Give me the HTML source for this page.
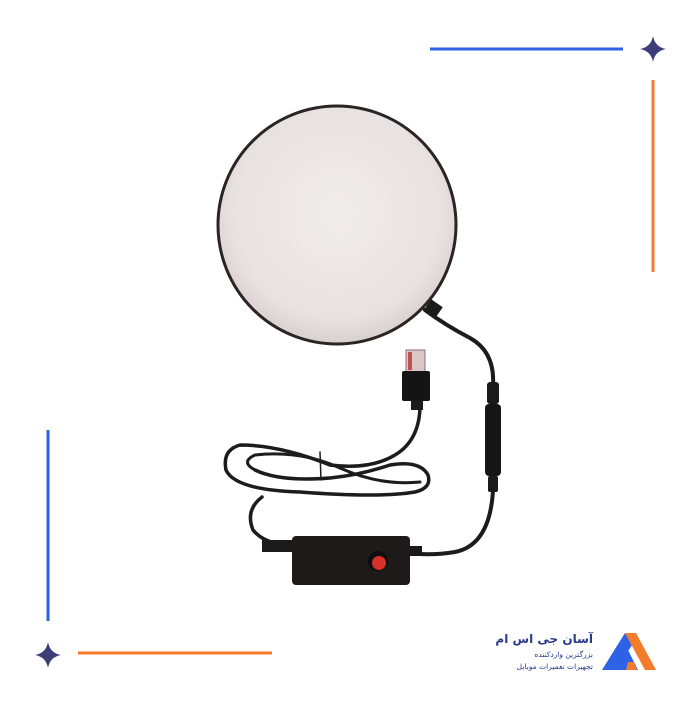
<!DOCTYPE html>
<html><head><meta charset="utf-8"><style>
body{margin:0;background:#fff;width:700px;height:700px;overflow:hidden}
</style></head><body>
<svg width="700" height="700" viewBox="0 0 700 700" xmlns="http://www.w3.org/2000/svg">
<defs>
<radialGradient id="g" cx="50%" cy="45%" r="55%"><stop offset="0" stop-color="#f1ecec"/><stop offset="0.8" stop-color="#e9e2e3"/><stop offset="1" stop-color="#d8cfd1"/></radialGradient>
</defs>
<rect width="700" height="700" fill="#fff"/>
<line x1="430" y1="49" x2="623" y2="49" stroke="#2d62e6" stroke-width="3"/>
<line x1="653" y1="80" x2="653" y2="272" stroke="#f47b2a" stroke-width="3"/>
<line x1="48" y1="430" x2="48" y2="621" stroke="#2d62e6" stroke-width="3"/>
<line x1="78" y1="653" x2="272" y2="653" stroke="#f47b2a" stroke-width="3"/>
<path d="M653 36 Q655 47 666 49 Q655 51 653 62 Q651 51 640 49 Q651 47 653 36Z" fill="#3d3d78"/>
<path d="M48 642 Q50 653 61 655 Q50 657 48 668 Q46 657 35 655 Q46 653 48 642Z" fill="#3d3d78"/>
<circle cx="337" cy="225" r="119" fill="url(#g)" stroke="#2b2424" stroke-width="3"/>
<g fill="none" stroke="#1c1c1c" stroke-linecap="round">
<path d="M425 310 Q445 325 470 338 Q495 352 493 385" stroke-width="4"/>
<path d="M493 490 Q490 545 455 552 Q430 556 410 553" stroke-width="4"/>
<path d="M420 405 Q420 440 395 455 Q370 470 330 465" stroke-width="3.5"/>
<path d="M330 465 Q280 445 240 445 Q222 450 226 470 Q235 490 300 492 Q380 498 415 492 Q432 488 428 475 Q420 460 390 465 Q360 475 330 478 Q280 482 255 470" stroke-width="3.5"/>
<path d="M255 470 Q240 462 255 455 Q300 450 340 468 Q380 486 420 482" stroke-width="3"/>
<path d="M293 545 Q265 545 253 530 Q245 510 262 497" stroke-width="3.5"/>
<path d="M320 452 L321 480" stroke-width="1.5"/>
</g>
<rect x="426" y="302" width="14" height="14" fill="#1c1c1c" transform="rotate(35 433 309)"/>
<rect x="487" y="382" width="12" height="22" rx="3" fill="#1a1a1a"/>
<rect x="485" y="404" width="16" height="72" rx="4" fill="#151515"/>
<rect x="488" y="476" width="10" height="16" rx="2" fill="#1a1a1a"/>
<rect x="406" y="350" width="19" height="22" fill="#d8c8c8" stroke="#8a7070"/>
<rect x="408" y="352" width="4" height="18" fill="#c0504a"/>
<rect x="402" y="371" width="28" height="30" rx="2" fill="#141414"/>
<rect x="411" y="400" width="12" height="10" fill="#1a1a1a"/>
<rect x="262" y="540" width="32" height="12" fill="#1a1a1a"/>
<rect x="408" y="546" width="14" height="10" fill="#1a1a1a"/>
<rect x="292" y="536" width="118" height="49" rx="4" fill="#1f1a1a"/>
<circle cx="378" cy="561" r="10" fill="#0e0e0e"/>
<circle cx="379" cy="563" r="7" fill="#d8302a"/>
<polygon points="602,670 625,633 632,645 616,670" fill="#2d62e6"/>
<polygon points="625,633 636,633 656,670 645,670" fill="#f47b2a"/>
<polygon points="613,670 628,650 638,670" fill="#2d62e6"/>
<polygon points="628,662 634,662 637,670 626,670" fill="#f47b2a"/>
<text x="593" y="643" text-anchor="end" font-family="DejaVu Sans, sans-serif" font-size="12" font-weight="bold" fill="#2a3a8a">آسان جی اس ام</text>
<text x="593" y="657" text-anchor="end" font-family="DejaVu Sans, sans-serif" font-size="7.5" fill="#2a3a8a">بزرگترین واردکننده</text>
<text x="593" y="669" text-anchor="end" font-family="DejaVu Sans, sans-serif" font-size="7.5" fill="#2a3a8a">تجهیزات تعمیرات موبایل</text>
</svg>
</body></html>
